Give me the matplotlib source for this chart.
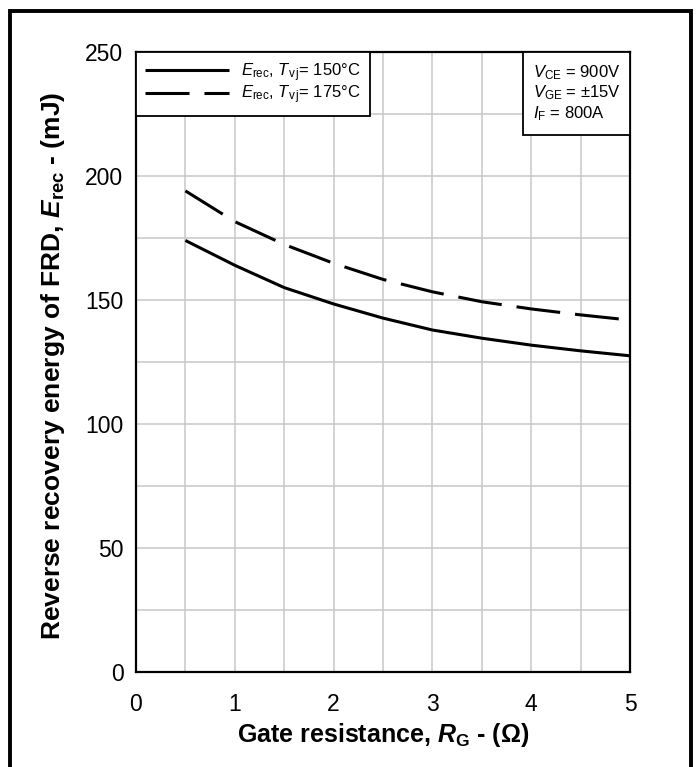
import matplotlib
matplotlib.use("Agg")
import matplotlib.pyplot as plt
from matplotlib.patches import Rectangle

plt.rcParams['font.family'] = ['Liberation Sans', 'DejaVu Sans']
plt.rcParams['mathtext.fontset'] = 'custom'
plt.rcParams['mathtext.rm'] = 'Liberation Sans'
plt.rcParams['mathtext.it'] = 'Liberation Sans:italic'
plt.rcParams['mathtext.bf'] = 'Liberation Sans:bold'
plt.rcParams['mathtext.bfit'] = 'Liberation Sans:italic:bold'

# Data
rg = [0.5, 1.0, 1.5, 2.0, 2.5, 3.0, 3.5, 4.0, 4.5, 5.0]
erec_150 = [174, 164, 155, 148.4, 142.7, 137.9, 134.6, 131.8, 129.5, 127.5]
erec_175 = [194, 181.6, 172.4, 164.8, 158.3, 153.3, 149.3, 146.4, 144, 141.9]
x_ticks = [0, 1, 2, 3, 4, 5]
y_ticks = [0, 50, 100, 150, 200, 250]
label_150 = r'$E_{\rm rec}$, $T_{\rm v\,j}$= 150°C'
label_175 = r'$E_{\rm rec}$, $T_{\rm v\,j}$= 175°C'
cond_text = r'$V_{\rm CE}$ = 900V' + '\n' + r'$V_{\rm GE}$ = ±15V' + '\n' + r'$I_{\rm F}$ = 800A'

W, H = 700, 767
fig = plt.figure(figsize=(W / 100, H / 100), dpi=100)
ax = fig.add_axes([136 / W, 1 - 672 / H, (630 - 136) / W, (672 - 52) / H])

ax.set_xlim(0, 5)
ax.set_ylim(0, 250)
ax.set_xticks([i * 0.5 for i in range(11)], minor=True)
ax.set_yticks([i * 25 for i in range(11)], minor=True)
ax.set_xticks(x_ticks)
ax.set_yticks(y_ticks)
ax.grid(True, which='both', color='#c8c8c8', linewidth=1.1)
ax.set_axisbelow(True)
ax.tick_params(which='both', length=0)
ax.tick_params(axis='x', labelsize=16.5, pad=15)
ax.tick_params(axis='y', labelsize=16.5, pad=9)
for s in ax.spines.values():
    s.set_linewidth(1.6)
    s.set_color('black')

l1, = ax.plot(rg, erec_150, color='black', lw=2.2, solid_capstyle='butt')
l2, = ax.plot(rg, erec_175, color='black', lw=2.2, dashes=(14.4, 4.9), dash_capstyle='butt')

leg = ax.legend([l1, l2], [label_150, label_175], loc='upper left',
                bbox_to_anchor=(0.0, 1.0), fontsize=12, frameon=True,
                fancybox=False, framealpha=1, edgecolor='black',
                handlelength=5.0, handletextpad=0.75, borderpad=0.55,
                labelspacing=0.0, borderaxespad=0)
leg.get_frame().set_linewidth(1.3)

# condition box
ax.add_patch(Rectangle(((523 - 136) / 494, (672 - 135) / 620),
                       (630 - 523) / 494, (135 - 52) / 620,
                       transform=ax.transAxes, facecolor='white',
                       edgecolor='black', linewidth=1.3, zorder=5))
ax.text((533 - 136) / 494, (672 - 63) / 620, cond_text, transform=ax.transAxes,
        fontsize=12, va='top', ha='left', linespacing=1.15, zorder=6)

ax.set_xlabel(r'Gate resistance, $\mathbfit{R}_{\mathbf{G}}$ - (Ω)',
              fontsize=18, fontweight='bold', labelpad=4)
ax.set_ylabel(r'Reverse recovery energy of FRD, $\mathbfit{E}_{\mathbf{rec}}$ - (mJ)',
              fontsize=19, fontweight='bold')
ax.yaxis.set_label_coords((67 - 136) / 494, (672 - 366) / 620)

# outer frame
fig.patches.append(Rectangle((10 / W, -0.05), (691 - 10) / W, 1.05 - 11 / H,
                             transform=fig.transFigure, fill=False,
                             edgecolor='black', linewidth=2.8))

fig.savefig('out.png', dpi=100)
